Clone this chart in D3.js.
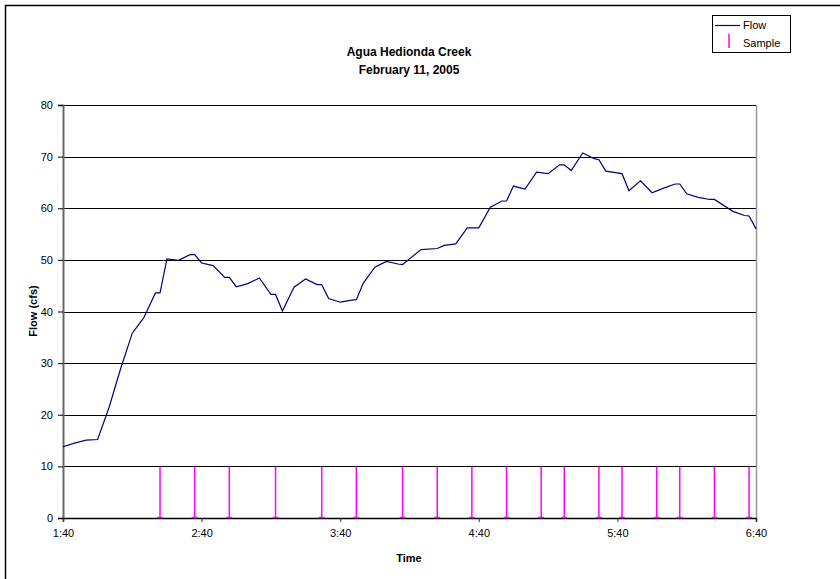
<!DOCTYPE html>
<html>
<head>
<meta charset="utf-8">
<script src="https://cdn.jsdelivr.net/npm/d3@7"></script>
<style>
  body { margin: 0; background: #fff; }
  svg { display: block; font-family: Arial, "Liberation Sans", sans-serif; }
</style>
</head>
<body>
<script>
// flow readings (time of day, cfs)
var flowTimes = ["1:40","1:45","1:50","1:55","2:00","2:05","2:10","2:15","2:20","2:22","2:25","2:30","2:35","2:37",
  "2:40","2:45","2:50","2:52","2:55","3:00","3:05","3:10","3:12","3:15","3:20","3:25","3:30","3:32","3:35","3:40",
  "3:45","3:47","3:50","3:55","4:00","4:05","4:07","4:10","4:15","4:22","4:25","4:30","4:35","4:40","4:45","4:50",
  "4:52","4:55","5:00","5:05","5:10","5:15","5:17","5:20","5:25","5:30","5:32","5:35","5:42","5:45","5:50","5:55",
  "6:00","6:05","6:07","6:10","6:15","6:20","6:22","6:30","6:35","6:37","6:40"];
var flowValues = [13.8,14.5,15.1,15.2,21.5,29.0,35.8,38.8,43.6,43.6,50.2,49.9,51.0,51.0,
  49.4,48.9,46.6,46.6,44.8,45.4,46.5,43.3,43.3,40.1,44.7,46.3,45.2,45.2,42.5,41.8,
  42.2,42.3,45.5,48.6,49.7,49.2,49.1,50.2,52.0,52.2,52.8,53.1,56.2,56.2,60.2,61.4,
  61.4,64.3,63.7,67.0,66.7,68.4,68.4,67.3,70.7,69.6,69.4,67.2,66.7,63.4,65.3,63.0,
  63.9,64.7,64.7,62.8,62.1,61.7,61.7,59.4,58.6,58.5,56.0];

// sample times (bars drawn to 10 cfs)
var sampleTimes = ["2:22","2:37","2:52","3:12","3:32","3:47","4:07","4:22","4:37","4:52","5:07","5:17",
  "5:32","5:42","5:57","6:07","6:22","6:37"];
var sampleHeight = 10;

var xTickLabels = ["1:40","2:40","3:40","4:40","5:40","6:40"];
var yTicks = [0,10,20,30,40,50,60,70,80];

var titleLines = ["Agua Hedionda Creek", "February 11, 2005"];

function toMin(t) {
  var p = t.split(":");
  return (+p[0]) * 60 + (+p[1]);
}

var W = 840, H = 579;
var plot = { left: 63, top: 105, right: 756, bottom: 518 };

var svg = d3.select("body").append("svg").attr("width", W).attr("height", H);

// chart border (right and bottom edges fall outside the window)
svg.append("rect").attr("x", 5.5).attr("y", 5.5).attr("width", 860).attr("height", 600)
  .attr("fill", "none").attr("stroke", "#000").attr("stroke-width", 1.5);

var x = d3.scaleLinear().domain([toMin("1:40"), toMin("6:40")]).range([plot.left, plot.right]);
var y = d3.scaleLinear().domain([0, 80]).range([plot.bottom, plot.top]);

// gridlines
svg.append("g").selectAll("line").data(yTicks.slice(1)).enter().append("line")
  .attr("x1", plot.left).attr("x2", plot.right)
  .attr("y1", function (d) { return Math.round(y(d)) + 0.5; })
  .attr("y2", function (d) { return Math.round(y(d)) + 0.5; })
  .attr("stroke", "#000").attr("stroke-width", 1);

// right plot border
svg.append("line").attr("x1", plot.right + 0.5).attr("x2", plot.right + 0.5)
  .attr("y1", plot.top).attr("y2", plot.bottom)
  .attr("stroke", "#999").attr("stroke-width", 1.5);

// y axis
var yAxis = d3.axisLeft(y).tickValues(yTicks).tickSize(5).tickPadding(5);
var gy = svg.append("g").attr("transform", "translate(" + plot.left + ",0)").call(yAxis);
gy.select(".domain").attr("stroke", "#666").attr("stroke-width", 2);
gy.selectAll(".tick line").attr("stroke", "#000");
gy.selectAll("text").attr("font-size", 11).attr("fill", "#000").attr("font-family", "Arial, 'Liberation Sans', sans-serif");

// x axis
var xAxis = d3.axisBottom(x).tickValues(xTickLabels.map(toMin))
  .tickFormat(function (d, i) { return xTickLabels[i]; }).tickSize(4).tickPadding(7);
var gx = svg.append("g").attr("transform", "translate(0," + plot.bottom + ")").call(xAxis);
gx.select(".domain").attr("stroke", "#000").attr("stroke-width", 1.5);
gx.selectAll(".tick line").attr("stroke", "#333");
gx.selectAll("text").attr("font-size", 11).attr("fill", "#000").attr("font-family", "Arial, 'Liberation Sans', sans-serif");

// samples
var sampleG = svg.append("g");
sampleG.selectAll("line.samp").data(sampleTimes).enter().append("line")
  .attr("class", "samp")
  .attr("x1", function (d) { return x(toMin(d)); })
  .attr("x2", function (d) { return x(toMin(d)); })
  .attr("y1", y(0)).attr("y2", y(sampleHeight))
  .attr("stroke", "#ff00ff").attr("stroke-width", 1.5);
sampleG.selectAll("line.cap").data(sampleTimes).enter().append("line")
  .attr("class", "cap")
  .attr("x1", function (d) { return x(toMin(d)) - 3; })
  .attr("x2", function (d) { return x(toMin(d)) + 3; })
  .attr("y1", y(0) - 0.5).attr("y2", y(0) - 0.5)
  .attr("stroke", "#ff00ff").attr("stroke-width", 1.5);

// flow line
var line = d3.line()
  .x(function (d, i) { return x(toMin(flowTimes[i])); })
  .y(function (d) { return y(d); });
svg.append("path").attr("d", line(flowValues))
  .attr("fill", "none").attr("stroke", "#000080").attr("stroke-width", 1.2);

// titles
svg.append("text").attr("x", 409).attr("y", 56).attr("text-anchor", "middle")
  .attr("font-size", 12).attr("font-weight", "bold").text(titleLines[0]);
svg.append("text").attr("x", 409).attr("y", 74).attr("text-anchor", "middle")
  .attr("font-size", 12).attr("font-weight", "bold").text(titleLines[1]);

svg.append("text").attr("x", 409).attr("y", 562).attr("text-anchor", "middle")
  .attr("font-size", 11).attr("font-weight", "bold").text("Time");
svg.append("text").attr("transform", "translate(37,311) rotate(-90)").attr("text-anchor", "middle")
  .attr("font-size", 11).attr("font-weight", "bold").text("Flow (cfs)");

// legend
var lg = svg.append("g").attr("transform", "translate(712,15)");
lg.append("rect").attr("x", 0.5).attr("y", 0.5).attr("width", 78).attr("height", 37)
  .attr("fill", "#fff").attr("stroke", "#000").attr("stroke-width", 1);
lg.append("line").attr("x1", 3).attr("x2", 28).attr("y1", 10.5).attr("y2", 10.5)
  .attr("stroke", "#000080").attr("stroke-width", 1.2);
lg.append("line").attr("x1", 17).attr("x2", 17).attr("y1", 19).attr("y2", 33)
  .attr("stroke", "#ff00ff").attr("stroke-width", 1.5);
lg.append("text").attr("x", 31).attr("y", 14).attr("font-size", 11).text("Flow");
lg.append("text").attr("x", 31).attr("y", 32).attr("font-size", 11).text("Sample");
</script>
</body>
</html>
